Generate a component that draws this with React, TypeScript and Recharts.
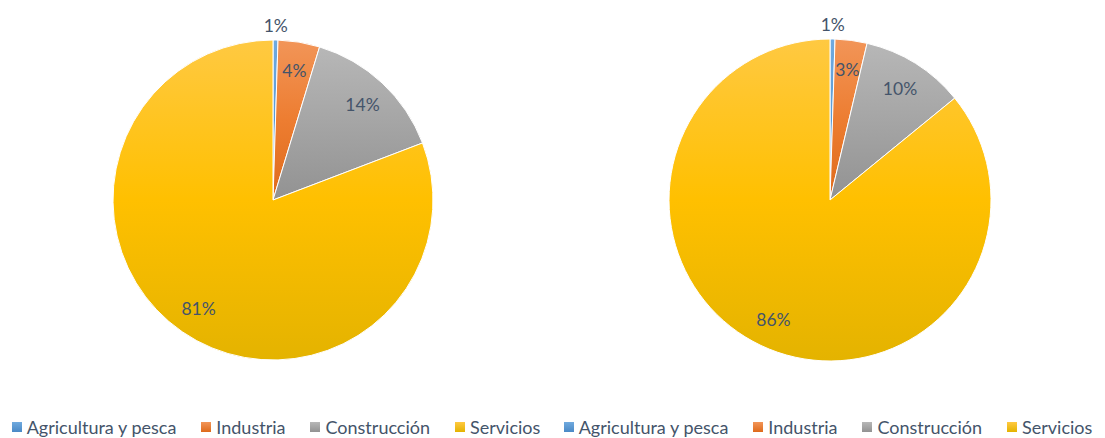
import React from "react";
import { PieChart, Pie, Cell, Legend } from "recharts";

const categories = ["Agricultura y pesca", "Industria", "Construcción", "Servicios"];
const leftValues = [0.5, 4.2, 14.5, 80.8];
const rightValues = [0.5, 3.2, 10.4, 85.9];
const leftLabels = ["1%", "4%", "14%", "81%"];
const rightLabels = ["1%", "3%", "10%", "86%"];

const gradStops = [
  ["#70AADF", "#5B9BD5", "#4A89C6"],
  ["#F29558", "#ED7D31", "#DE6A1B"],
  ["#B7B7B7", "#A5A5A5", "#929292"],
  ["#FFC942", "#FFC000", "#E4B300"],
];

const TEXT = "#44546A";
const FONT = "Lato, 'Open Sans', sans-serif";
const RAD = Math.PI / 180;

const makeLabel = (labels: string[]) => (props: any) => {
  const { cx, cy, midAngle, outerRadius, index } = props;
  const f = index === 0 ? 1.09 : 0.82;
  const r = outerRadius * f;
  const x = cx + r * Math.cos(-midAngle * RAD);
  const y = cy + r * Math.sin(-midAngle * RAD);
  return (
    <text x={x} y={y} fill={TEXT} fontSize={17.5} fontFamily={FONT} textAnchor="middle" dominantBaseline="central">
      {labels[index]}
    </text>
  );
};

const LegendContent = () => (
  <div style={{ display: "flex", justifyContent: "center", fontFamily: FONT, fontSize: 18, color: TEXT, whiteSpace: "nowrap" }}>
    {categories.map((c, i) => (
      <span key={c} style={{ display: "inline-flex", alignItems: "center", marginRight: i < 3 ? 25 : 0 }}>
        <span style={{ display: "inline-block", width: 10, height: 10, marginRight: 5, background: `linear-gradient(${gradStops[i][0]}, ${gradStops[i][2]})` }} />
        {c}
      </span>
    ))}
  </div>
);

const OnePie = ({ values, labels, cx, r }: { values: number[]; labels: string[]; cx: number; r: number }) => {
  const data = categories.map((name, i) => ({ name, value: values[i] }));
  return (
    <PieChart width={552} height={438} margin={{ top: 0, right: 0, bottom: 0, left: 0 }}>
      <Pie
        data={data}
        dataKey="value"
        nameKey="name"
        cx={cx}
        cy={200}
        outerRadius={r}
        startAngle={90}
        endAngle={-270}
        stroke="#ffffff"
        strokeWidth={1}
        label={makeLabel(labels)}
        labelLine={false}
        isAnimationActive={false}
      >
        {data.map((d, i) => (
          <Cell key={d.name} fill={`url(#pg${i})`} />
        ))}
      </Pie>
      <Legend verticalAlign="bottom" content={<LegendContent />} wrapperStyle={{ bottom: 0 }} />
    </PieChart>
  );
};

export default function App() {
  return (
    <div style={{ position: "absolute", left: 0, top: 0, width: 1105, height: 438, background: "#fff" }}>
      <svg width={0} height={0} style={{ position: "absolute" }}>
        <defs>
          {gradStops.map((g, i) => (
            <linearGradient key={i} id={`pg${i}`} x1="0" y1="0" x2="0" y2="1">
              <stop offset="0%" stopColor={g[0]} />
              <stop offset="50%" stopColor={g[1]} />
              <stop offset="100%" stopColor={g[2]} />
            </linearGradient>
          ))}
        </defs>
      </svg>
      <div style={{ display: "flex" }}>
        <OnePie values={leftValues} labels={leftLabels} cx={273} r={160} />
        <OnePie values={rightValues} labels={rightLabels} cx={278} r={161} />
      </div>
    </div>
  );
}
